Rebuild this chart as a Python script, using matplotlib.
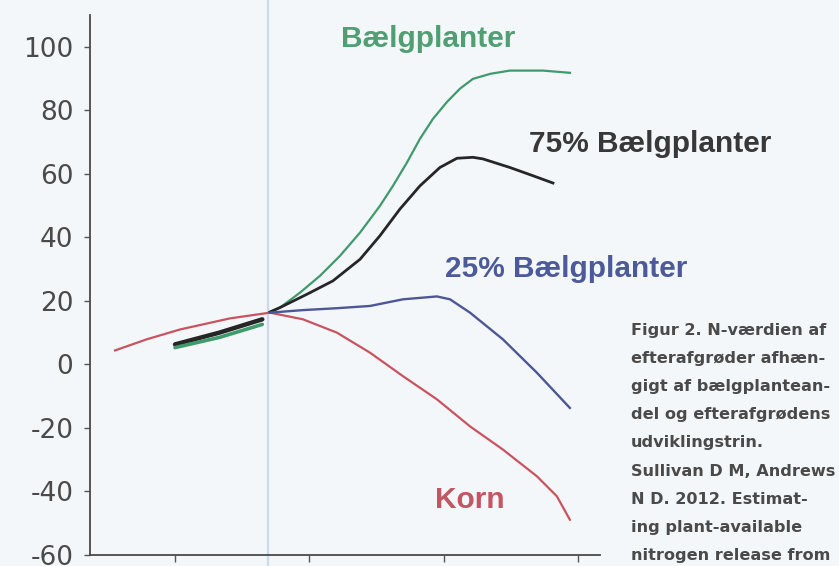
import matplotlib.pyplot as plt

# values
korn_x = [0.553, 0.789, 1.037, 1.410, 1.707, 1.953, 2.206, 2.452, 2.698, 2.951,
          3.197, 3.442, 3.695, 3.844, 3.941]
korn_y = [4.4, 7.9, 11.0, 14.5, 16.3, 14.2, 10.0, 3.7, -3.7, -11.0,
          -19.5, -26.8, -35.2, -41.5, -48.9]

green_early_x = [1.00, 1.33, 1.65]
green_early_y = [5.3, 8.5, 12.6]
black_early_x = [1.00, 1.33, 1.65]
black_early_y = [6.3, 10.0, 14.2]

baelg_x = [1.707, 1.782, 1.931, 2.080, 2.229, 2.378, 2.526, 2.623, 2.728, 2.824,
           2.921, 3.025, 3.122, 3.219, 3.350, 3.494, 3.740, 3.941]
baelg_y = [16.5, 17.9, 22.6, 27.9, 34.2, 41.5, 49.9, 56.2, 63.6, 71.0,
           77.3, 82.6, 86.8, 89.9, 91.5, 92.5, 92.5, 91.8]

b75_x = [1.707, 1.782, 1.983, 2.176, 2.378, 2.526, 2.675, 2.824, 2.973, 3.100,
         3.219, 3.293, 3.494, 3.666, 3.815]
b75_y = [16.5, 17.9, 22.1, 26.3, 33.1, 40.5, 48.9, 56.2, 62.0, 64.9,
         65.2, 64.7, 62.0, 59.4, 57.1]

b25_x = [1.707, 1.953, 2.206, 2.452, 2.698, 2.951, 3.048, 3.197, 3.442, 3.695, 3.941]
b25_y = [16.3, 17.1, 17.7, 18.4, 20.5, 21.4, 20.5, 16.3, 7.9, -2.6, -13.7]

yticks = [-60, -40, -20, 0, 20, 40, 60, 80, 100]
xticks = [1, 2, 3, 4]

caption = ["Figur 2. N-værdien af",
           "efterafgrøder afhæn-",
           "gigt af bælgplantean-",
           "del og efterafgrødens",
           "udviklingstrin.",
           "Sullivan D M, Andrews",
           "N D. 2012. Estimat-",
           "ing plant-available",
           "nitrogen release from"]

GREEN = "#3f9a6c"
BLACK = "#262626"
BLUE = "#4d5796"
RED = "#c9535f"
BG = "#f4f7f9"

plt.rcParams['font.family'] = ['Liberation Sans', 'DejaVu Sans']

fig = plt.figure(figsize=(8.39, 5.66), dpi=100, facecolor=BG)
ax = fig.add_axes([0.1073, 0.0194, 0.6078, 0.9541])
ax.set_facecolor(BG)

ax.plot(korn_x, korn_y, color=RED, lw=1.6)
ax.plot(black_early_x, black_early_y, color=BLACK, lw=3.2, solid_capstyle='round')
ax.plot(green_early_x, green_early_y, color=GREEN, lw=2.6, solid_capstyle='round')
ax.plot(baelg_x, baelg_y, color=GREEN, lw=1.6)
ax.plot(b75_x, b75_y, color=BLACK, lw=2.0)
ax.plot(b25_x, b25_y, color=BLUE, lw=1.7)

# page fold from the scan
ax.axvline(1.69, ymin=-0.05, ymax=1.05, color="#c9d9ef", lw=1.6, clip_on=False, zorder=0)

ax.set_xlim(0.367, 4.165)
ax.set_ylim(-60, 110)
ax.set_yticks(yticks)
ax.set_yticklabels([str(v) for v in yticks], fontsize=19, color="#4a4a4a",
                   family=['DejaVu Sans'])
ax.set_xticks(xticks)
ax.set_xticklabels([])
ax.tick_params(axis='y', length=4, width=1, color="#555555", pad=8)
ax.tick_params(axis='x', length=5, width=1, color="#555555")

for s in ['top', 'right']:
    ax.spines[s].set_visible(False)
for s in ['left', 'bottom']:
    ax.spines[s].set_color("#4a4a4a")
    ax.spines[s].set_linewidth(1.3)

ax.text(2.884, 102.5, "Bælgplanter", color="#4f9f73", fontsize=21.5,
        fontweight='bold', ha='center', va='center')
ax.text(4.537, 69.4, "75% Bælgplanter", color="#383838", fontsize=21.5,
        fontweight='bold', ha='center', va='center', clip_on=False)
ax.text(3.911, 30.0, "25% Bælgplanter", color="#4d5a99", fontsize=21.5,
        fontweight='bold', ha='center', va='center')
ax.text(3.197, -42.6, "Korn", color="#c25663", fontsize=21.5,
        fontweight='bold', ha='center', va='center')

# caption column, runs off the bottom like the scanned page
for i, line in enumerate(caption):
    y = 1 - (330 + i * 28.2) / 566
    fig.text(631 / 839, y, line, fontsize=11.6, fontweight='bold',
             color="#4a4a4a", ha='left', va='center', family=['DejaVu Sans'])

fig.savefig("out.png", dpi=100, facecolor=BG)
